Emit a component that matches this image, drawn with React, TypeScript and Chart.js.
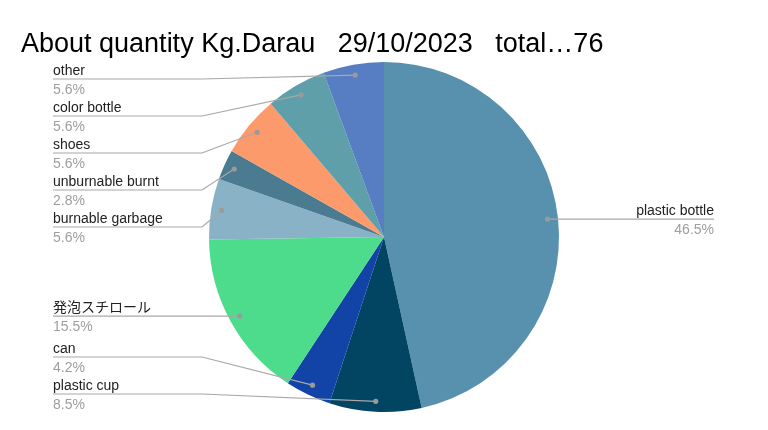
import React, { useEffect, useRef } from "react";
import { Chart, registerables } from "chart.js";

Chart.register(...registerables);

const titleText = "About quantity Kg.Darau   29/10/2023   total\u202676";
const categories = [
  "plastic bottle",
  "plastic cup",
  "can",
  "発泡スチロール",
  "burnable garbage",
  "unburnable burnt",
  "shoes",
  "color bottle",
  "other",
];
const percents = [46.5, 8.5, 4.2, 15.5, 5.6, 2.8, 5.6, 5.6, 5.6];
const percentLabels = ["46.5%", "8.5%", "4.2%", "15.5%", "5.6%", "2.8%", "5.6%", "5.6%", "5.6%"];
const colors = [
  "#5891ae",
  "#024562",
  "#1144a6",
  "#4ddc8c",
  "#8ab2c7",
  "#4a7b90",
  "#fc9a6c",
  "#5e9fa9",
  "#577ec3",
];

const FONT = "'Liberation Sans', Arial, 'Noto Sans CJK JP', sans-serif";

const labelPlugin = {
  id: "sideLabels",
  afterDraw(chart: any) {
    const ctx = chart.ctx as CanvasRenderingContext2D;
    const meta = chart.getDatasetMeta(0);
    const area = chart.chartArea;
    ctx.save();
    // title
    ctx.fillStyle = "#000";
    ctx.font = `27px ${FONT}`;
    ctx.textBaseline = "alphabetic";
    ctx.textAlign = "left";
    ctx.fillText(titleText, 21, 52);

    const left: any[] = [];
    const right: any[] = [];
    meta.data.forEach((arc: any, i: number) => {
      const p = arc.getProps(["x", "y", "startAngle", "endAngle", "outerRadius"], true);
      const mid = (p.startAngle + p.endAngle) / 2;
      const r = p.outerRadius * 0.94;
      const dx = p.x + Math.cos(mid) * r;
      const dy = p.y + Math.sin(mid) * r;
      const item = { i, dx, dy, y: dy };
      if (Math.cos(mid) >= 0) right.push(item);
      else left.push(item);
    });
    const top = area.top + 17;
    const bottom = area.bottom - 18;
    const gap = 37;
    const resolve = (arr: any[]) => {
      arr.sort((a, b) => a.dy - b.dy);
      arr.forEach((it, k) => {
        it.y = Math.min(Math.max(it.dy, top), bottom);
        if (k > 0) it.y = Math.max(it.y, arr[k - 1].y + gap);
      });
      for (let k = arr.length - 1; k >= 0; k--) {
        if (arr[k].y > bottom) arr[k].y = bottom;
        if (k < arr.length - 1) arr[k].y = Math.min(arr[k].y, arr[k + 1].y - gap);
      }
    };
    resolve(left);
    resolve(right);

    const lineColor = "#a8a8a8";
    const drawItem = (it: any, side: "l" | "r") => {
      const textX = side === "l" ? 53 : 714;
      const bendX = side === "l" ? 202 : 714;
      ctx.strokeStyle = lineColor;
      ctx.lineWidth = 1.2;
      ctx.beginPath();
      if (side === "l") {
        ctx.moveTo(textX, it.y);
        ctx.lineTo(bendX, it.y);
        ctx.lineTo(it.dx, it.dy);
      } else {
        ctx.moveTo(it.dx, it.dy);
        ctx.lineTo(textX, it.y);
      }
      ctx.stroke();
      ctx.fillStyle = "#9a9a9a";
      ctx.beginPath();
      ctx.arc(it.dx, it.dy, 2.6, 0, Math.PI * 2);
      ctx.fill();
      ctx.textAlign = side === "l" ? "left" : "right";
      ctx.font = `14px ${FONT}`;
      ctx.fillStyle = "#222";
      ctx.textBaseline = "alphabetic";
      ctx.fillText(categories[it.i], textX, it.y - 4);
      ctx.fillStyle = "#9e9e9e";
      ctx.fillText(percentLabels[it.i], textX, it.y + 15);
    };
    left.forEach((it) => drawItem(it, "l"));
    right.forEach((it) => drawItem(it, "r"));
    ctx.restore();
  },
};

export default function App() {
  const ref = useRef<HTMLCanvasElement | null>(null);
  useEffect(() => {
    if (!ref.current) return;
    const chart = new Chart(ref.current, {
      type: "pie",
      data: {
        labels: categories,
        datasets: [
          {
            data: percents,
            backgroundColor: colors,
            borderWidth: 0,
          },
        ],
      },
      options: {
        responsive: false,
        animation: false,
        layout: { padding: { top: 62, bottom: 18, left: 20, right: 20 } },
        plugins: {
          legend: { display: false },
          title: { display: false },
          tooltip: { enabled: false },
        },
      },
      plugins: [labelPlugin],
    });
    return () => chart.destroy();
  }, []);
  return (
    <div style={{ position: "fixed", left: 0, top: 0, width: 768, height: 430, background: "#fff" }}>
      <canvas ref={ref} width={768} height={430} style={{ width: 768, height: 430 }} />
    </div>
  );
}
